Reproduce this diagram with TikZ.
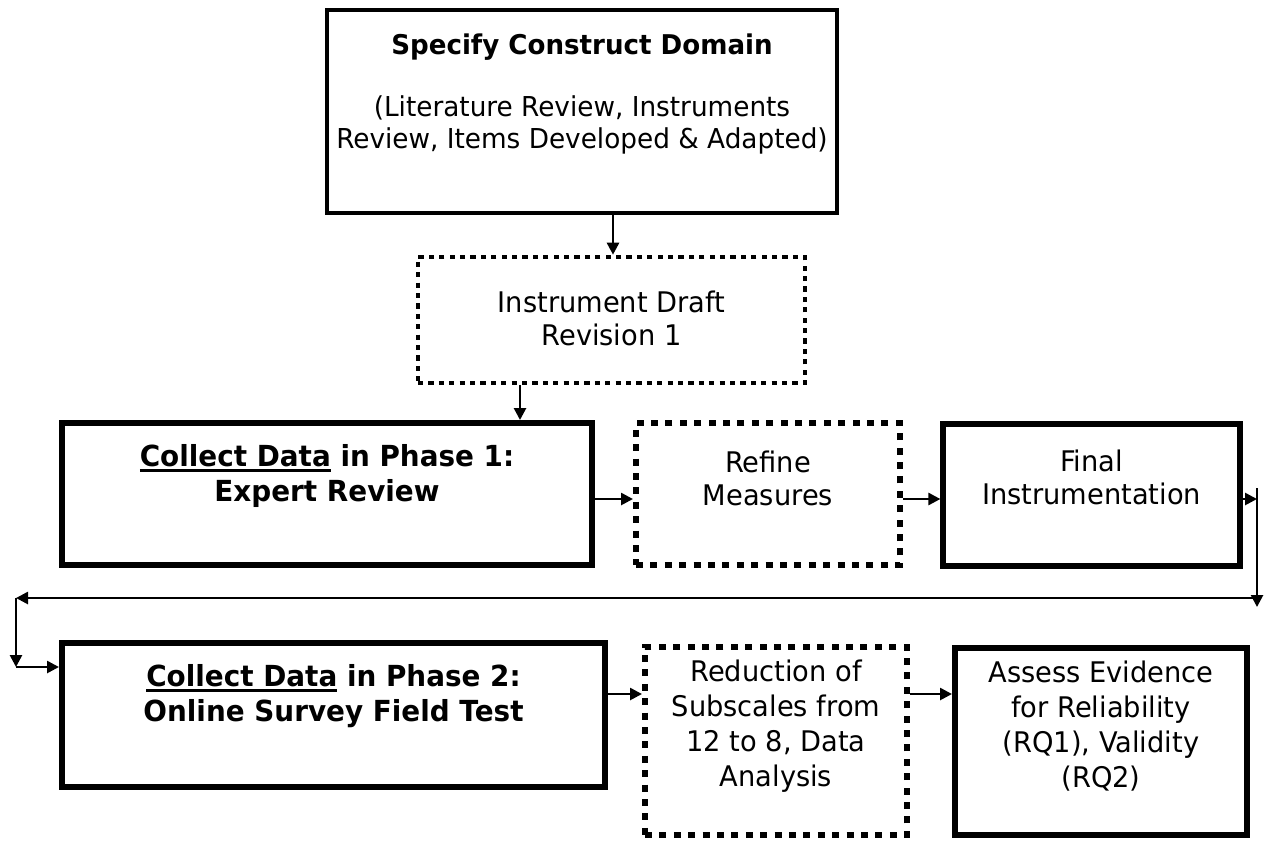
\documentclass[tikz,border=0pt]{standalone}
\usepackage{fontspec}
\setmainfont{DejaVu Sans}[FakeStretch=0.96]
\usetikzlibrary{arrows.meta}
% underline with a heavier rule
\newcommand{\heavyul}[1]{\setbox0\hbox{#1}\rlap{\rule[-2.6pt]{\wd0}{1.3pt}}\box0\relax}

\begin{document}
\begin{tikzpicture}[x=0.5pt,y=-0.5pt,
  solidbox/.style={draw, inner sep=0pt},
  dotbox/.style={draw, inner sep=0pt, line width=3pt, dash pattern=on 3.5pt off 3.7pt},
  finedots/.style={draw, inner sep=0pt, line width=2.3pt, dash pattern=on 2.6pt off 2.6pt},
  bodytext/.style={align=center, inner sep=0pt, font=\fontsize{14.2}{16.5}\selectfont},
  tallbody/.style={bodytext, font=\fontsize{14.2}{17.5}\selectfont},
  headtext/.style={align=center, inner sep=0pt, font=\fontsize{14.5}{17.5}\selectfont\bfseries},
  arr/.style={line width=1.3pt, -{Triangle[length=6pt,width=6pt]}},
]
\useasboundingbox (0,0) rectangle (1272,842);

% boxes
\node[solidbox, line width=2pt, minimum width=255pt, minimum height=101.5pt] (spec) at (582,111.5) {};
\node[finedots, minimum width=193.5pt, minimum height=63pt] (draft) at (611.5,320) {};
\node[solidbox, line width=3pt, minimum width=265pt, minimum height=71pt] (p1) at (327,494) {};
\node[dotbox, minimum width=132pt, minimum height=71pt] (refine) at (768,494) {};
\node[solidbox, line width=2.6pt, minimum width=148.5pt, minimum height=71pt] (final) at (1091.5,495) {};
\node[solidbox, line width=3pt, minimum width=271.5pt, minimum height=72pt] (p2) at (333.5,715) {};
\node[dotbox, minimum width=131pt, minimum height=94pt] (reduce) at (776,741) {};
\node[solidbox, line width=3pt, minimum width=146pt, minimum height=93.5pt] (assess) at (1101,741.5) {};

% texts
\node[headtext, font=\fontsize{13.6}{17}\selectfont\bfseries] (spec-t) at (582,47) {Specify Construct Domain};
\node[bodytext, font=\fontsize{13.7}{16.3}\selectfont] (spec-b) at (582,125) {(Literature Review, Instruments\\Review, Items Developed \& Adapted)};
\node[bodytext] (draft-t) at (611.5,318) {Instrument Draft\\Revision 1};
\node[headtext] (p1-t) at (327,476) {\heavyul{Collect Data} in Phase 1:\\Expert Review};
\node[bodytext] (refine-t) at (768,478) {Refine\\Measures};
\node[bodytext] (final-t) at (1091.5,477) {Final\\Instrumentation};
\node[headtext] (p2-t) at (333.5,696) {\heavyul{Collect Data} in Phase 2:\\Online Survey Field Test};
\node[tallbody] (reduce-t) at (776,726) {Reduction of\\Subscales from\\12 to 8, Data\\Analysis};
\node[tallbody] (assess-t) at (1101,726) {Assess Evidence\\for Reliability\\(RQ1), Validity\\(RQ2)};

% routing points
\coordinate (down1) at (613,0);
\coordinate (down2) at (520,0);
\coordinate (row1) at (0,499);
\coordinate (row2) at (0,694);
\coordinate (rtop) at (1257,488);
\coordinate (rbend) at (1257,499);
\coordinate (rbot) at (1257,607);
\coordinate (rret) at (1257,598);
\coordinate (lret) at (16,598);
\coordinate (lbot) at (16,667);

% connectors
\draw[arr] (spec.south -| down1) -- (draft.north -| down1);
\draw[arr] (draft.south -| down2) -- (p1.north -| down2);
\draw[arr] (p1.east |- row1) -- (refine.west |- row1);
\draw[arr] (refine.east |- row1) -- (final.west |- row1);
\draw[arr] (final.east |- row1) -- (rbend);
\draw[arr] (rtop) -- (rbot);
\draw[arr] (rret) -- (lret);
\draw[arr] (lret) -- (lbot);
\draw[arr] (lbot) -- (p2.west |- lbot);
\draw[arr] (p2.east |- row2) -- (reduce.west |- row2);
\draw[arr] (reduce.east |- row2) -- (assess.west |- row2);
\end{tikzpicture}
\end{document}
